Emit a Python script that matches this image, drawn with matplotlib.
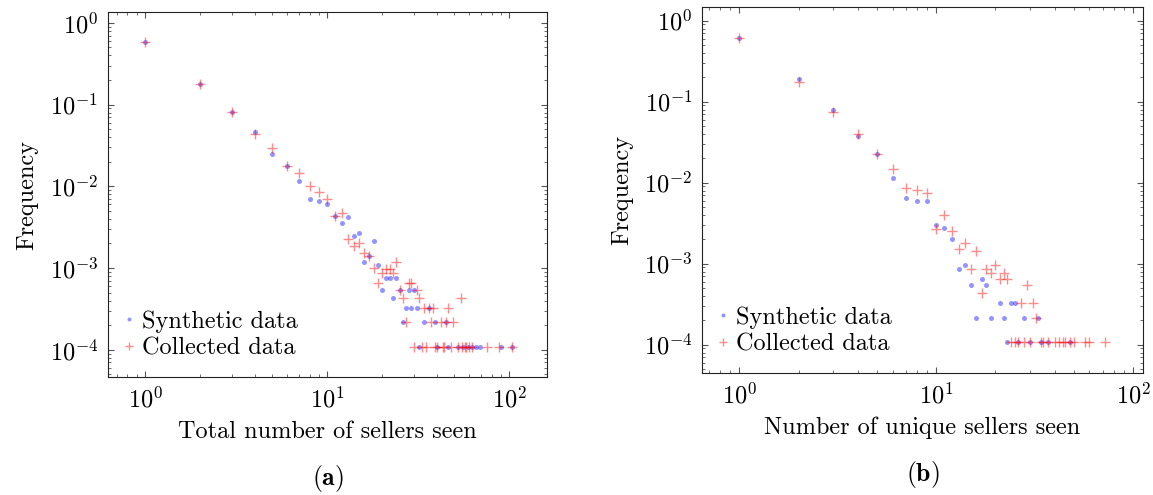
import matplotlib
matplotlib.use("Agg")
import matplotlib.pyplot as plt
import numpy as np
from matplotlib.ticker import FuncFormatter, LogLocator, NullFormatter

plt.rcParams["font.family"] = "serif"
plt.rcParams["font.serif"] = ["cmr10"]
plt.rcParams["mathtext.fontset"] = "cm"
plt.rcParams["axes.unicode_minus"] = False
plt.rcParams["axes.formatter.use_mathtext"] = True

# --- (a) total number of sellers seen ---
total_syn_x = [1, 2, 3, 4, 5, 6, 7, 8, 9, 10, 11, 12, 13, 14, 15, 16, 17, 18, 19,
               20, 21, 22, 23, 24, 25, 26, 27, 28, 29, 30, 31, 32, 34, 36, 39, 40,
               45, 46, 52, 56, 59, 62, 66, 69, 90, 104]
total_syn_y = [0.58, 0.178, 0.0815, 0.046, 0.0251, 0.0179, 0.0116, 0.0071, 0.0067,
               0.0060, 0.0043, 0.00357, 0.0042, 0.00247, 0.0027, 0.00119, 0.00139,
               0.00216, 0.00108, 0.00054, 0.00076, 0.00076, 0.00043, 0.00076,
               0.00054, 0.000216, 0.000324, 0.00054, 0.000324, 0.00054, 0.000324,
               0.000108, 0.000216, 0.000324, 0.000216, 0.000108, 0.000216,
               0.000108, 0.000108, 0.000108, 0.000108, 0.000108, 0.000108,
               0.000108, 0.000108, 0.000108]

total_col_x = [1, 2, 3, 4, 5, 6, 7, 8, 9, 10, 11, 12, 13, 14, 15, 16, 17, 18, 19,
               20, 21, 22, 23, 24, 25, 26, 27, 28, 29, 30, 31, 32, 33, 34, 35, 36,
               37, 38, 39, 40, 42, 43, 44, 45, 46, 48, 49, 52, 54, 55, 57, 58, 60,
               62, 75, 88, 104]
total_col_y = [0.58, 0.178, 0.0815, 0.044, 0.0298, 0.0179, 0.0146, 0.0101, 0.0085,
               0.0070, 0.0043, 0.0047, 0.00227, 0.00186, 0.00201, 0.00155, 0.00139,
               0.00100, 0.00065, 0.00086, 0.00097, 0.00097, 0.00086, 0.0012,
               0.00054, 0.00043, 0.000216, 0.00065, 0.00065, 0.000108, 0.00054,
               0.00043, 0.000108, 0.000324, 0.000108, 0.000324, 0.000216,
               0.000324, 0.000108, 0.000108, 0.000216, 0.000108, 0.000108,
               0.000216, 0.000324, 0.000108, 0.000216, 0.000108, 0.00043,
               0.000108, 0.000108, 0.000108, 0.000108, 0.000108, 0.000108,
               0.000108, 0.000108]

# --- (b) number of unique sellers seen ---
unique_syn_x = [1, 2, 3, 4, 5, 6, 7, 8, 9, 10, 11, 12, 13, 14, 15, 16, 17, 18, 19,
                21, 22, 23, 24, 25, 26, 28, 30, 33, 34, 37, 48]
unique_syn_y = [0.617, 0.189, 0.0797, 0.0374, 0.0224, 0.0113, 0.00653, 0.0059,
                0.0059, 0.0030, 0.00278, 0.0020, 0.00086, 0.00095, 0.00054,
                0.000216, 0.00065, 0.00054, 0.000216, 0.000324, 0.000216,
                0.000108, 0.000324, 0.000324, 0.000108, 0.000216, 0.000108,
                0.000216, 0.000108, 0.000108, 0.000108]

unique_col_x = [1, 2, 3, 4, 5, 6, 7, 8, 9, 10, 11, 12, 13, 14, 15, 16, 17, 18, 19,
                20, 21, 22, 23, 24, 25, 26, 27, 28, 29, 30, 31, 32, 34, 35, 37, 40,
                42, 44, 45, 48, 50, 57, 60, 72]
unique_col_y = [0.617, 0.175, 0.0746, 0.0396, 0.0224, 0.0149, 0.0087, 0.0081,
                0.0074, 0.0027, 0.0040, 0.0025, 0.00152, 0.00179, 0.00086, 0.00144,
                0.00043, 0.00086, 0.00076, 0.00097, 0.00065, 0.00076, 0.00065,
                0.000108, 0.000108, 0.000108, 0.000324, 0.000108, 0.00054,
                0.000108, 0.000324, 0.000216, 0.000108, 0.000108, 0.000108,
                0.000108, 0.000108, 0.000108, 0.000108, 0.000108, 0.000108,
                0.000108, 0.000108, 0.000108]

FS = 17.5


def style_axis(ax):
    ax.set_xscale("log")
    ax.set_yscale("log")
    pow10 = FuncFormatter(lambda v, p: r"$10^{%d}$" % int(round(np.log10(v))))
    ax.xaxis.set_major_formatter(pow10)
    ax.yaxis.set_major_formatter(pow10)
    ax.xaxis.set_major_locator(LogLocator(base=10, numticks=10))
    ax.yaxis.set_major_locator(LogLocator(base=10, numticks=10))
    ax.xaxis.set_minor_locator(LogLocator(base=10, subs=np.arange(2, 10), numticks=20))
    ax.yaxis.set_minor_locator(LogLocator(base=10, subs=np.arange(2, 10), numticks=20))
    ax.xaxis.set_minor_formatter(NullFormatter())
    ax.yaxis.set_minor_formatter(NullFormatter())
    ax.tick_params(which="both", direction="in", top=True, right=True,
                   color="#555555", labelsize=FS)
    ax.tick_params(which="major", length=4.5, width=0.8, pad=7)
    ax.tick_params(which="minor", length=2.5, width=0.6)
    for sp in ax.spines.values():
        sp.set_linewidth(0.8)
        sp.set_color("#222222")


def draw_panel(ax, sx, sy, cx, cy, xlabel, tag, xlim, ylim):
    ax.plot(sx, sy, ls="none", marker="o", ms=3.6, mew=0, color="blue",
            alpha=0.42, label="Synthetic data")
    ax.plot(cx, cy, ls="none", marker="+", ms=6.5, mew=1.0, color="red",
            alpha=0.45, label="Collected data")
    style_axis(ax)
    ax.set_xlim(*xlim)
    ax.set_ylim(*ylim)
    ax.set_xlabel(xlabel, fontsize=FS, labelpad=6)
    ax.set_ylabel("Frequency", fontsize=FS, labelpad=8)
    ax.legend(loc="lower left", frameon=False, fontsize=FS, handlelength=0.3,
              handletextpad=0.4, labelspacing=0.2, borderaxespad=0.5,
              borderpad=0.2, markerscale=0.8)
    ax.text(0.5, -0.277, tag, transform=ax.transAxes, ha="center", va="center",
            fontsize=FS + 1)


fig = plt.figure(figsize=(11.53, 4.95), dpi=100)
ax1 = fig.add_axes([0.0937, 0.2384, 0.3807, 0.7374])
ax2 = fig.add_axes([0.6091, 0.2465, 0.3820, 0.7394])

draw_panel(ax1, total_syn_x, total_syn_y, total_col_x, total_col_y,
           "Total number of sellers seen", r"$\mathbf{(a)}$",
           (0.626, 161), (4.65e-5, 1.36))
draw_panel(ax2, unique_syn_x, unique_syn_y, unique_col_x, unique_col_y,
           "Number of unique sellers seen", r"$\mathbf{(b)}$",
           (0.648, 112), (4.47e-5, 1.476))

fig.savefig("out.png", dpi=100)
